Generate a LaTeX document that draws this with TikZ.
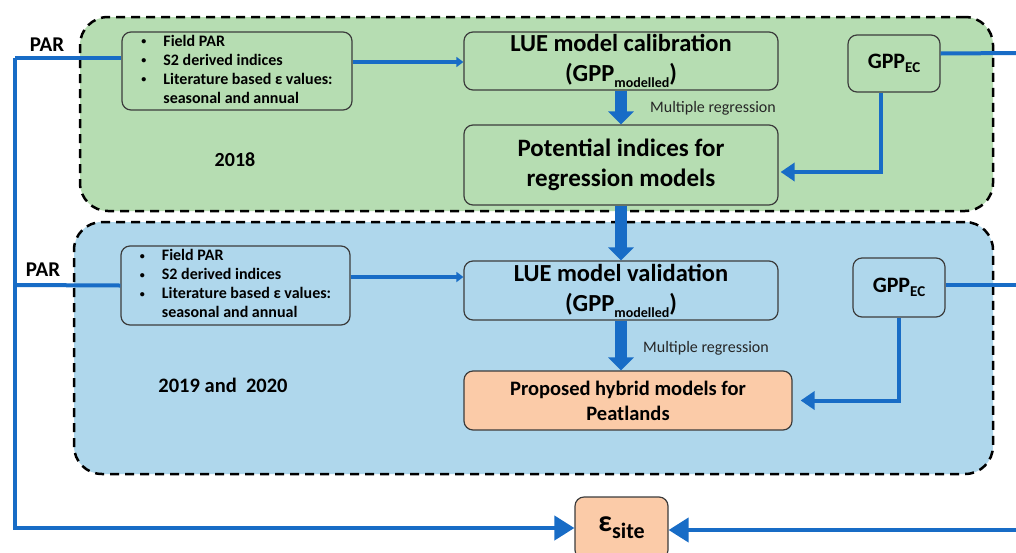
\documentclass[tikz,border=0pt]{standalone}
\usepackage{fontspec}
\setmainfont{Carlito}
\usetikzlibrary{arrows.meta,calc}
\definecolor{gfill}{RGB}{182,221,178}
\definecolor{bfill}{RGB}{175,215,236}
\definecolor{ofill}{RGB}{251,203,168}
\definecolor{bline}{RGB}{24,108,198}
\definecolor{bord}{RGB}{60,60,60}
\newcommand{\lsub}[3]{\raisebox{-#1}{\fontsize{#2}{#2}\selectfont #3}}
\newcommand{\fs}[1]{\fontsize{#1}{1.2\dimexpr #1pt\relax}\selectfont}
\newcommand{\bul}{\raisebox{1.5pt}{\fontsize{10}{10}\selectfont\textbullet}}
\begin{document}
\begin{tikzpicture}[x=1pt,y=-1pt,
  box/.style={draw=bord, line width=1.2pt, rounded corners=9pt, font=\bfseries, align=center, inner sep=0pt},
  container/.style={draw=black, line width=2.5pt, dash pattern=on 9pt off 6pt, rounded corners=28pt, inner sep=0pt},
  bl/.style={draw=bline, line width=4pt},
  blarrow/.style={bl, -{Triangle[length=20pt,width=24pt]}},
  midarrow/.style={bl, -{Triangle[length=14pt,width=18pt]}},
  smallarrow/.style={bl, -{Triangle[length=7pt,width=10pt]}},
  fat/.style={draw=bline, line width=12pt, -{Triangle[length=13pt,width=25pt]}},
  lbl/.style={font=\bfseries, inner sep=0pt},
  reg/.style={font=\fs{16}, text=black!85, inner sep=0pt}
]
\useasboundingbox (0,0) rectangle (1016,552);
\fill[white] (0,0) rectangle (1016,552);

% containers
\node[container, fill=gfill, minimum width=913pt, minimum height=194pt] (green) at (536.5,114) {};
\node[container, fill=bfill, minimum width=919pt, minimum height=252pt] (blue) at (533.5,348) {};

% 2018 block
\node[box, fill=gfill, minimum width=230pt, minimum height=78pt] (in1) at (237,71)
 {\bfseries\fontsize{16}{19}\selectfont
  \begin{tabular}{@{}l@{\hspace{17pt}}l@{}}
  \bul & Field PAR\\
  \bul & S2 derived indices\\
  \bul & Literature based ε values:\\
   & seasonal and annual
  \end{tabular}};
\node[box, fill=gfill, minimum width=314pt, minimum height=58pt, font=\bfseries\fontsize{24.5}{30}\selectfont] (lue1) at (621,61)
 {LUE model calibration\\(GPP\lsub{6pt}{14}{modelled})};
\node[box, fill=gfill, minimum width=92pt, minimum height=57pt, font=\bfseries\fs{22}] (gpp1) at (894,63.5)
 {GPP\lsub{4pt}{15}{EC}};
\node[box, fill=gfill, minimum width=314pt, minimum height=80pt, font=\bfseries\fontsize{25}{30}\selectfont] (pot) at (621,165)
 {Potential indices for\\regression models};
\node[lbl, font=\bfseries\fs{20}] (y1) at (235,160) {2018};
\node[reg] (mr1) at (713,108) {Multiple regression};

% 2019-2020 block
\node[box, fill=bfill, minimum width=229pt, minimum height=79pt] (in2) at (235.5,285.5)
 {\bfseries\fontsize{16}{19}\selectfont
  \begin{tabular}{@{}l@{\hspace{17pt}}l@{}}
  \bul & Field PAR\\
  \bul & S2 derived indices\\
  \bul & Literature based ε values:\\
   & seasonal and annual
  \end{tabular}};
\node[box, fill=bfill, minimum width=314pt, minimum height=59pt, font=\bfseries\fontsize{24.5}{30}\selectfont] (lue2) at (621,290.5)
 {LUE model validation\\(GPP\lsub{6pt}{14}{modelled})};
\node[box, fill=bfill, minimum width=92pt, minimum height=59pt, font=\bfseries\fs{22}] (gpp2) at (899,287.5)
 {GPP\lsub{4pt}{15}{EC}};
\node[box, fill=ofill, minimum width=328pt, minimum height=59pt, font=\bfseries\fontsize{20.5}{25}\selectfont] (prop) at (628,400.5)
 {Proposed hybrid models for\\Peatlands};
\node[lbl, font=\bfseries\fs{20.5}] (y2) at (223,385) {2019 and\ \ 2020};
\node[reg] (mr2) at (706,348) {Multiple regression};

% epsilon site
\node[box, fill=ofill, minimum width=93pt, minimum height=62pt, font=\bfseries] (eps) at (621.5,528)
 {\fontsize{30}{30}\selectfont ε\lsub{7pt}{22}{site}};

% PAR labels
\node[lbl, font=\bfseries\fs{21}] (par1l) at (47,45) {PAR};
\node[lbl, font=\bfseries\fs{21}] (par2l) at (43,270) {PAR};

\coordinate (par1) at (15,58);
\coordinate (par2) at (15,285);
\coordinate (ec1out) at (1020,53);
\coordinate (ec2out) at (1020,285);
\coordinate (rin) at (1020,530);

% connectors
\draw[bl] (par1) -- (par1 -| in1.west);
\draw[bl] (par2) -- (in2.west);
\draw[blarrow] (par1) |- (eps.west);
\draw[blarrow] (rin) -- (rin -| eps.east);
\draw[smallarrow] ([yshift=-1pt]in1.east |- lue1.west) -- ([yshift=-1pt]lue1.west);
\draw[smallarrow] ([yshift=13.5pt]lue2.west -| in2.east) -- ([yshift=13.5pt]lue2.west);
\draw[bl] ([yshift=10pt]gpp1.east) -- (ec1out);
\draw[bl] (gpp2.east |- ec2out) -- (ec2out);
\draw[midarrow] ([xshift=-13pt]gpp1.south) |- ([yshift=-7pt,xshift=2pt]pot.east);
\draw[midarrow] (gpp2.south) |- ([xshift=8pt]prop.east);
\draw[fat] (lue1.south) -- (pot.north);
\draw[fat] (pot.south) -- (lue2.north);
\draw[fat] (lue2.south) -- (lue2.south |- prop.north);
\end{tikzpicture}
\end{document}
